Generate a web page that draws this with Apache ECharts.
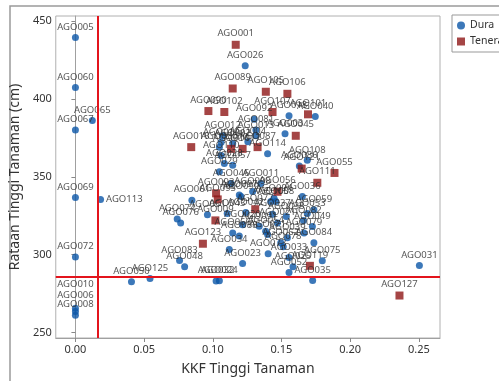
<!DOCTYPE html>
<html>
<head>
<meta charset="utf-8">
<script src="https://cdn.jsdelivr.net/npm/echarts@6/dist/echarts.min.js"></script>
<style>
html,body{margin:0;padding:0;background:#fff;}
#chart{width:499px;height:381px;}
</style>
</head>
<body>
<div id="chart"></div>
<script>
// ---- Data ----
const duraNames = ["AGO005","AGO060","AGO067","AGO065","AGO069","AGO113","AGO072","AGO010","AGO006","AGO008",
  "AGO050","AGO125","AGO032","AGO024","AGO034","AGO083","AGO048","AGO074","AGO076","AGO061",
  "AGO051","AGO026","AGO018","AGO040","AGO092","AGO003","AGO081","AGO114","AGO012","AGO013",
  "AGO030","AGO019","AGO110","AGO028","AGO029","AGO057","AGO108","AGO086","AGO046","AGO011",
  "AGO036","AGO099","AGO058","AGO094","AGO097","AGO098","AGO100","AGO059","AGO053","AGO082",
  "AGO049","AGO023","AGO073","AGO078","AGO033","AGO075","AGO025","AGO052","AGO035","AGO066",
  "AGO071","AGO039","AGO079","AGO091","AGO054","AGO062","AGO084","AGO088","AGO020","AGO021",
  "AGO002","AGO004","AGO037","AGO038","AGO042","AGO043","AGO031"];
const duraKKF = [0.000,0.000,0.000,0.0123,0.000,0.0183,0.000,0.000,0.000,0.000,
  0.0408,0.0543,0.1024,0.1048,0.1120,0.0758,0.0795,0.0741,0.0766,0.0848,
  0.0961,0.1236,0.1555,0.1746,0.1301,0.1526,0.1314,0.1399,0.1072,0.1314,
  0.1048,0.1061,0.1061,0.1084,0.1048,0.1145,0.1688,0.1630,0.1133,0.1350,
  0.1652,0.1205,0.1459,0.1446,0.1193,0.1290,0.1422,0.1736,0.1688,0.1660,
  0.1725,0.1217,0.1403,0.1513,0.1555,0.1797,0.1584,0.1555,0.1727,0.1145,
  0.1399,0.1543,0.1664,0.1338,0.1385,0.1495,0.1736,0.1193,0.1217,0.1471,
  0.1145,0.1255,0.1435,0.1535,0.1240,0.1105,0.2504];
const duraHeight = [439.6,407.4,380.1,386.2,336.8,335.4,298.5,265.5,263.5,261.0,
  282.6,284.7,283.0,283.2,303.3,296.3,292.2,322.9,320.3,335.0,
  325.6,421.4,389.2,388.8,387.1,377.7,380.1,364.8,376.4,376.4,
  369.1,372.2,363.7,358.5,353.2,357.4,360.6,357.0,345.7,345.7,
  337.3,337.3,334.1,336.2,338.3,340.5,334.1,328.8,326.5,322.0,
  318.0,294.3,300.6,305.0,298.1,296.0,292.2,288.5,283.3,313.9,
  312.9,310.8,313.9,318.2,315.0,307.6,307.6,311.9,319.2,320.3,
  371.5,372.5,326.0,324.5,327.0,326.5,293.0];

const teneraNames = ["AGO001","AGO089","AGO105","AGO106","AGO090","AGO102","AGO107","AGO101","AGO045","AGO016",
  "AGO014","AGO017","AGO087","AGO121","AGO055","AGO111","AGO093","AGO095","AGO056","AGO077",
  "AGO009","AGO123","AGO119","AGO127"];
const teneraKKF = [0.1167,0.1145,0.1386,0.1543,0.0968,0.1084,0.1435,0.1693,0.1604,0.0843,
  0.1133,0.1217,0.1326,0.1647,0.1886,0.1761,0.1024,0.1036,0.1471,0.1309,
  0.1019,0.0928,0.1707,0.2359];
const teneraHeight = [434.9,406.8,404.7,403.4,392.3,391.7,391.7,390.2,376.4,369.1,
  368.0,368.0,369.1,355.3,352.5,346.2,339.4,335.5,340.4,329.2,
  322.0,307.0,292.8,273.7];

const thresholdKKF = 0.0164;
const thresholdHeight = 286.0;

const xTicks = [0.00,0.05,0.10,0.15,0.20,0.25];
const yTicks = [250,300,350,400,450];

// ---- Label placement tweaks (style only) ----
const labelTweaks = {
  AGO010:{offset:[0,-13]},
  AGO006:{offset:[0,-6]},
  AGO113:{position:'right',distance:2}
};

// ---- Build ----
function mkItem(n,x,y){
  const it = {value:[x,y,n]};
  if (labelTweaks[n]) it.label = labelTweaks[n];
  return it;
}
const duraData = duraNames.map((n,i)=>mkItem(n,duraKKF[i],duraHeight[i]));
const teneraData = teneraNames.map((n,i)=>mkItem(n,teneraKKF[i],teneraHeight[i]));

const FONT = "'Noto Sans', 'Open Sans', sans-serif";
const labelCfg = {
  show:true, position:'top', distance:2,
  formatter:p=>p.value[2], fontSize:9.5, color:'#2a2a2a', fontFamily:FONT
};

const chart = echarts.init(document.getElementById('chart'), null, {renderer:'canvas'});
chart.setOption({
  animation:false,
  backgroundColor:'#fff',
  textStyle:{fontFamily:FONT},
  graphic:[{
    type:'rect', silent:true, z:-1,
    shape:{x:10,y:6,width:560,height:420},
    style:{fill:'none',stroke:'#9a9a9a',lineWidth:1.5}
  }],
  legend:{
    orient:'vertical', left:452, top:15,
    data:['Dura','Tenera'],
    borderColor:'#999', borderWidth:1,
    padding:[5,20,5,5], itemWidth:8, itemHeight:8, itemGap:5,
    textStyle:{fontSize:10.5,color:'#333',fontFamily:FONT}
  },
  grid:{left:54,right:59,top:16,bottom:39,show:true,borderColor:'#b0b0b0',borderWidth:1,containLabel:false},
  xAxis:{
    type:'value', min:-0.0143, max:0.2654,
    name:'KKF Tinggi Tanaman', nameLocation:'middle', nameGap:24,
    nameTextStyle:{fontSize:14,color:'#333',fontFamily:FONT},
    axisLine:{show:true,lineStyle:{color:'#a0a0a0'}},
    axisTick:{show:true,length:4,customValues:xTicks,lineStyle:{color:'#888'}},
    axisLabel:{customValues:xTicks,formatter:v=>v.toFixed(2),fontSize:11,color:'#333',margin:6},
    splitLine:{show:false}
  },
  yAxis:{
    type:'value', min:246.4, max:453.4,
    name:'Rataan Tinggi Tanaman (cm)', nameLocation:'middle', nameGap:23,
    nameTextStyle:{fontSize:14,color:'#333',fontFamily:FONT},
    axisLine:{show:true,lineStyle:{color:'#a0a0a0'}},
    axisTick:{show:true,length:4,customValues:yTicks,lineStyle:{color:'#888'}},
    axisLabel:{customValues:yTicks,fontSize:11,color:'#333',margin:4},
    splitLine:{show:false}
  },
  series:[
    {
      name:'Dura', type:'scatter', symbol:'circle', symbolSize:7,
      itemStyle:{color:'#0b56a8'},
      label:labelCfg,
      data:duraData,
      markLine:{
        silent:true, precision:4, symbol:['none','none'], label:{show:false},
        lineStyle:{type:'solid',color:'#e3141c',width:2},
        data:[{xAxis:thresholdKKF},{yAxis:thresholdHeight}]
      }
    },
    {
      name:'Tenera', type:'scatter', symbol:'rect', symbolSize:8,
      itemStyle:{color:'#8e1616'},
      label:labelCfg,
      data:teneraData
    }
  ]
});
</script>
</body>
</html>
